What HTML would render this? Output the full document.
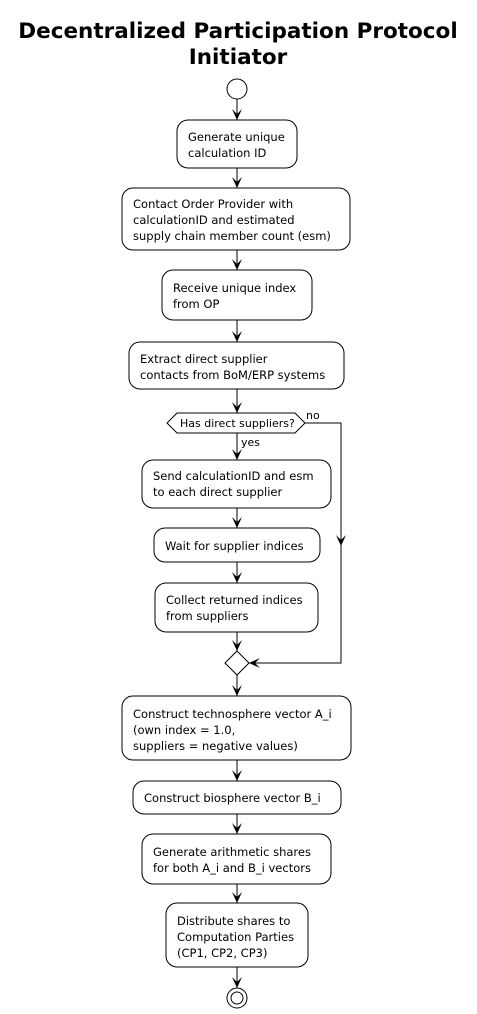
<!DOCTYPE html>
<html><head><meta charset="utf-8"><style>
html,body{margin:0;padding:0;background:#fff}
svg{display:block}
text{font-family:"DejaVu Sans","Liberation Sans",sans-serif;font-size:11.5px;fill:#000}
.t{font-family:"DejaVu Sans","Liberation Sans",sans-serif;font-weight:bold;font-size:21.5px}
.b{fill:#fff;stroke:#000;stroke-width:1}
.l{stroke:#000;stroke-width:1;fill:none}
.s{font-size:11px}
</style></head><body>
<svg width="477" height="1014" viewBox="0 0 477 1014" xmlns="http://www.w3.org/2000/svg">
<defs>
<path id="ar" d="M-5,-11 L0,0 L5,-11 L0,-6 Z" fill="#000"/>
<path id="al" d="M11,-5 L0,0 L11,5 L6,0 Z" fill="#000"/>
</defs>
<text class="t" x="238" y="38" text-anchor="middle">Decentralized Participation Protocol</text>
<text class="t" x="238" y="64" text-anchor="middle">Initiator</text>

<circle cx="237" cy="89" r="10" class="b"/>
<line x1="237" y1="99" x2="237" y2="120" class="l"/><use href="#ar" x="237" y="120"/>

<rect x="177" y="120" width="120" height="48" rx="11" class="b"/>
<text x="188" y="141">Generate unique</text><text x="188" y="157">calculation ID</text>
<line x1="237" y1="168" x2="237" y2="188" class="l"/><use href="#ar" x="237" y="188"/>

<rect x="122" y="188" width="228" height="62" rx="11" class="b"/>
<text x="133" y="208">Contact Order Provider with</text>
<text x="133" y="224">calculationID and estimated</text>
<text x="133" y="240">supply chain member count (esm)</text>
<line x1="237" y1="250" x2="237" y2="270" class="l"/><use href="#ar" x="237" y="270"/>

<rect x="162" y="270" width="150" height="50" rx="11" class="b"/>
<text x="173" y="292">Receive unique index</text><text x="173" y="308">from OP</text>
<line x1="237" y1="320" x2="237" y2="342" class="l"/><use href="#ar" x="237" y="342"/>

<rect x="129" y="342" width="215" height="47" rx="11" class="b"/>
<text x="140" y="363">Extract direct supplier</text><text x="140" y="379">contacts from BoM/ERP systems</text>
<line x1="237" y1="389" x2="237" y2="413" class="l"/><use href="#ar" x="237" y="413"/>

<polygon points="167,423 177,413 295,413 305,423 295,433 177,433" class="b"/>
<text class="s" x="180" y="427">Has direct suppliers?</text>
<text class="s" x="306" y="419">no</text>
<polyline points="305,423 341,423 341,663 249,663" class="l"/>
<use href="#ar" x="341" y="546"/>
<use href="#al" x="249" y="663"/>

<line x1="237" y1="433" x2="237" y2="460" class="l"/><use href="#ar" x="237" y="460"/>
<text class="s" x="241" y="446">yes</text>

<rect x="142" y="460" width="189" height="48" rx="11" class="b"/>
<text x="153" y="480">Send calculationID and esm</text><text x="153" y="496">to each direct supplier</text>
<line x1="237" y1="508" x2="237" y2="528" class="l"/><use href="#ar" x="237" y="528"/>

<rect x="154" y="528" width="166" height="34" rx="11" class="b"/>
<text x="165" y="550">Wait for supplier indices</text>
<line x1="237" y1="562" x2="237" y2="583" class="l"/><use href="#ar" x="237" y="583"/>

<rect x="155" y="583" width="163" height="49" rx="11" class="b"/>
<text x="166" y="604">Collect returned indices</text><text x="166" y="620">from suppliers</text>
<line x1="237" y1="632" x2="237" y2="651" class="l"/><use href="#ar" x="237" y="651"/>

<polygon points="237,651 249,663 237,675 225,663" class="b"/>
<line x1="237" y1="675" x2="237" y2="696" class="l"/><use href="#ar" x="237" y="696"/>

<rect x="122" y="696" width="229" height="64" rx="11" class="b"/>
<text x="133" y="718">Construct technosphere vector A_i</text>
<text x="133" y="734">(own index = 1.0,</text>
<text x="133" y="750">suppliers = negative values)</text>
<line x1="237" y1="760" x2="237" y2="781" class="l"/><use href="#ar" x="237" y="781"/>

<rect x="133" y="781" width="208" height="33" rx="11" class="b"/>
<text x="144" y="802">Construct biosphere vector B_i</text>
<line x1="237" y1="814" x2="237" y2="834" class="l"/><use href="#ar" x="237" y="834"/>

<rect x="142" y="834" width="189" height="50" rx="11" class="b"/>
<text x="153" y="856">Generate arithmetic shares</text><text x="153" y="872">for both A_i and B_i vectors</text>
<line x1="237" y1="884" x2="237" y2="903" class="l"/><use href="#ar" x="237" y="903"/>

<rect x="166" y="903" width="142" height="64" rx="11" class="b"/>
<text x="177" y="925">Distribute shares to</text>
<text x="177" y="941">Computation Parties</text>
<text x="177" y="957">(CP1, CP2, CP3)</text>
<line x1="237" y1="967" x2="237" y2="988" class="l"/><use href="#ar" x="237" y="988"/>

<circle cx="237" cy="998" r="10" class="b"/>
<circle cx="237" cy="998" r="6" class="b"/>
</svg>
</body></html>
